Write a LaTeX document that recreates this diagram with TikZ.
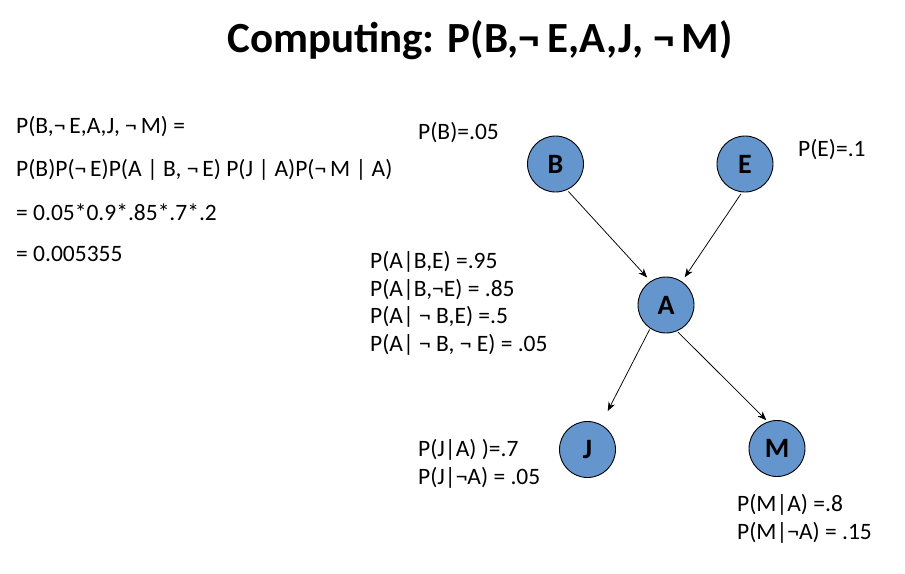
\documentclass[tikz,border=0pt]{standalone}
\usepackage{fontspec}
\setmainfont{Carlito}
\usetikzlibrary{arrows.meta}
\definecolor{nodeblue}{RGB}{100,149,204}
\begin{document}
\begin{tikzpicture}[x=1pt,y=-1pt,
  bn/.style={circle,draw=black,line width=0.9pt,fill=nodeblue,minimum size=56pt,inner sep=0pt,font=\fontsize{28}{30}\selectfont\bfseries},
  lbl/.style={anchor=west,inner sep=0pt,font=\fontsize{23.5}{26}\selectfont},
  arr/.style={-{Stealth[length=9pt,width=7pt]},line width=0.75pt}]
\useasboundingbox (0,0) rectangle (905,573);
\node[font=\fontsize{43}{48}\selectfont\bfseries,inner sep=0pt] (title) at (480,40) {Computing: P(B,¬\,E,A,J, ¬\,M)};
\node[lbl] (l1) at (16,127) {P(B,¬\,E,A,J, ¬\,M) =};
\node[lbl] (l2) at (16,170) {P(B)P(¬\,E)P(A | B, ¬\,E) P(J | A)P(¬\,M | A)};
\node[lbl] (l3) at (16,212) {= 0.05*0.9*.85*.7*.2};
\node[lbl] (l4) at (16,254) {= 0.005355};
\node[bn] (B) at (555.5,164) {B};
\node[bn] (E) at (745,164) {E};
\node[bn] (A) at (666,305) {A};
\node[bn] (J) at (587.5,449.5) {J};
\node[bn] (M) at (777,448.5) {M};
\node[lbl] (pb) at (418,133) {P(B)=.05};
\node[lbl] (pe) at (798,150) {P(E)=.1};
\node[lbl] (pa1) at (370,262) {P(A|B,E) =.95};
\node[lbl] (pa2) at (370,290) {P(A|B,¬E) = .85};
\node[lbl] (pa3) at (370,317) {P(A| ¬ B,E) =.5};
\node[lbl] (pa4) at (370,345) {P(A| ¬ B, ¬ E) = .05};
\node[lbl] (pj1) at (418,450) {P(J|A) )=.7};
\node[lbl] (pj2) at (418,478) {P(J|¬A) = .05};
\node[lbl] (pm1) at (737,505) {P(M|A) =.8};
\node[lbl] (pm2) at (737,533) {P(M|¬A) = .15};
\draw[arr,shorten >=5pt,shorten <=2pt] (B.-66) -- (A.123);
\draw[arr,shorten >=5pt,shorten <=2pt] (E.-96) -- (A.56);
\draw[arr,shorten >=15pt,shorten <=1pt] (A.-124) -- (J.62);
\draw[arr,shorten >=2pt,shorten <=1pt] (A.-67) -- (M.109);
\end{tikzpicture}
\end{document}
